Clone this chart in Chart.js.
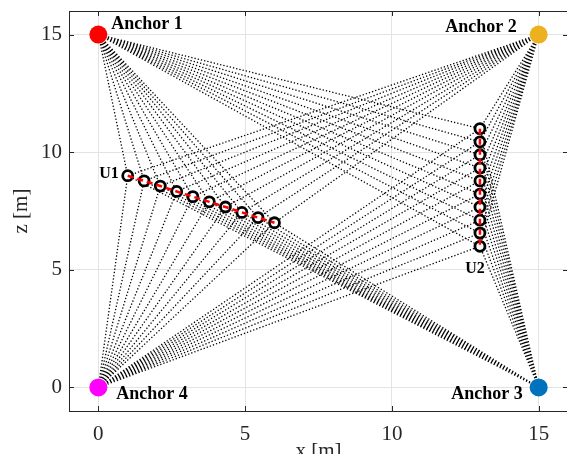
<!DOCTYPE html>
<html>
<head>
<meta charset="utf-8">
<script src="https://cdn.jsdelivr.net/npm/chart.js@4"></script>
<style>
  html, body { margin: 0; padding: 0; overflow: hidden; background: #fff; }
</style>
</head>
<body>
<canvas id="chart" width="600" height="480"></canvas>
<script>
// axis ticks
const xTicks = [0, 5, 10, 15];
const zTicks = [0, 5, 10, 15];

// anchors
const anchorNames = ['Anchor 1', 'Anchor 2', 'Anchor 3', 'Anchor 4'];
const anchorX = [0, 15, 15, 0];
const anchorZ = [15, 15, 0, 0];
const anchorColors = ['#ff0000', '#edb120', '#0072bd', '#ff00ff'];

// user trajectories
const u1X = [1, 1.56, 2.11, 2.67, 3.22, 3.78, 4.33, 4.89, 5.44, 6];
const u1Z = [9, 8.78, 8.56, 8.33, 8.11, 7.89, 7.67, 7.44, 7.22, 7];
const u2X = [13, 13, 13, 13, 13, 13, 13, 13, 13, 13];
const u2Z = [11, 10.44, 9.89, 9.33, 8.78, 8.22, 7.67, 7.11, 6.56, 6];

const serif = '"Liberation Serif", "Times New Roman", serif';

const pts = (xs, zs) => xs.map((v, i) => ({ x: v, y: zs[i] }));
const u1 = pts(u1X, u1Z);
const u2 = pts(u2X, u2Z);
const allPts = u1.concat(u2);

// one dotted dataset per anchor: anchor -> point, broken by gaps
const rayData = i => {
  const out = [];
  allPts.forEach(p => {
    out.push({ x: anchorX[i], y: anchorZ[i] }, p, { x: null, y: null });
  });
  return out;
};

const datasets = [];
anchorNames.forEach((n, i) => {
  datasets.push({
    label: 'rays ' + n,
    data: rayData(i),
    showLine: true,
    spanGaps: false,
    borderColor: '#000',
    borderWidth: 1.3,
    borderDash: [1.3, 2],
    pointRadius: 0,
    order: 10
  });
});
[u1, u2].forEach((d, k) => {
  datasets.push({
    label: 'U' + (k + 1) + ' points',
    data: d,
    showLine: false,
    pointRadius: 5,
    pointBorderWidth: 2.8,
    pointBorderColor: '#000',
    pointBackgroundColor: '#fff',
    order: 5
  });
  datasets.push({
    label: 'U' + (k + 1) + ' path',
    data: d,
    showLine: true,
    borderColor: '#ff0000',
    borderWidth: 2.5,
    borderDash: [6, 4],
    pointRadius: 0,
    order: 3
  });
});
datasets.push({
  label: 'Anchors',
  data: pts(anchorX, anchorZ),
  showLine: false,
  pointRadius: 9,
  pointBorderWidth: 0,
  pointBackgroundColor: anchorColors,
  order: 1
});

const annot = {
  id: 'annot',
  afterDatasetsDraw(chart) {
    const { ctx, chartArea: a, scales: { x, y } } = chart;
    ctx.save();
    ctx.strokeStyle = '#262626';
    ctx.lineWidth = 1;
    ctx.beginPath();
    ctx.moveTo(a.left, a.top + 0.5);
    ctx.lineTo(a.right, a.top + 0.5);
    // inward tick marks
    xTicks.forEach(v => {
      const px = Math.round(x.getPixelForValue(v)) + 0.5;
      ctx.moveTo(px, a.bottom); ctx.lineTo(px, a.bottom - 5);
      ctx.moveTo(px, a.top); ctx.lineTo(px, a.top + 5);
    });
    zTicks.forEach(v => {
      const py = Math.round(y.getPixelForValue(v)) + 0.5;
      ctx.moveTo(a.left, py); ctx.lineTo(a.left + 5, py);
      ctx.moveTo(a.right, py); ctx.lineTo(a.right - 5, py);
    });
    ctx.stroke();

    ctx.fillStyle = '#000';
    ctx.font = 'bold 18px ' + serif;
    ctx.textBaseline = 'middle';
    const place = [[13, -10, 'left'], [-22, -7, 'right'], [-16, 7, 'right'], [18, 7, 'left']];
    anchorNames.forEach((n, i) => {
      ctx.textAlign = place[i][2];
      ctx.fillText(n, x.getPixelForValue(anchorX[i]) + place[i][0], y.getPixelForValue(anchorZ[i]) + place[i][1]);
    });
    ctx.font = 'bold 16px ' + serif;
    ctx.textAlign = 'right';
    ctx.fillText('U1', x.getPixelForValue(u1X[0]) - 9, y.getPixelForValue(u1Z[0]) - 2);
    ctx.textAlign = 'center';
    ctx.fillText('U2', x.getPixelForValue(u2X[9]) - 5, y.getPixelForValue(u2Z[9]) + 23);
    ctx.restore();
  }
};

new Chart(document.getElementById('chart'), {
  type: 'scatter',
  data: { datasets },
  options: {
    responsive: false,
    animation: false,
    layout: { padding: { top: 11, right: 32, left: 0, bottom: 0 } },
    plugins: { legend: { display: false }, tooltip: { enabled: false } },
    scales: {
      x: {
        type: 'linear',
        min: -1,
        max: 16,
        afterBuildTicks: axis => { axis.ticks = xTicks.map(v => ({ value: v })); },
        afterFit: axis => { axis.height = 69; axis.paddingLeft = 0; axis.paddingRight = 0; },
        grid: { color: '#e3e3e3', drawTicks: false },
        border: { color: '#262626', width: 1 },
        ticks: { color: '#262626', font: { family: serif, size: 21 }, padding: 11 },
        title: { display: true, text: 'x [m]', color: '#262626', font: { family: serif, size: 21 }, padding: { top: 0, bottom: 16 } }
      },
      y: {
        type: 'linear',
        min: -1,
        max: 16,
        afterBuildTicks: axis => { axis.ticks = zTicks.map(v => ({ value: v })); },
        afterFit: axis => { axis.width = 69; axis.paddingTop = 0; axis.paddingBottom = 0; },
        grid: { color: '#e3e3e3', drawTicks: false },
        border: { color: '#262626', width: 1 },
        ticks: { color: '#262626', font: { family: serif, size: 21 }, padding: 7 },
        title: { display: true, text: 'z [m]', color: '#262626', font: { family: serif, size: 21 }, padding: { top: 9, bottom: 0 } }
      }
    }
  },
  plugins: [annot]
});
</script>
</body>
</html>
